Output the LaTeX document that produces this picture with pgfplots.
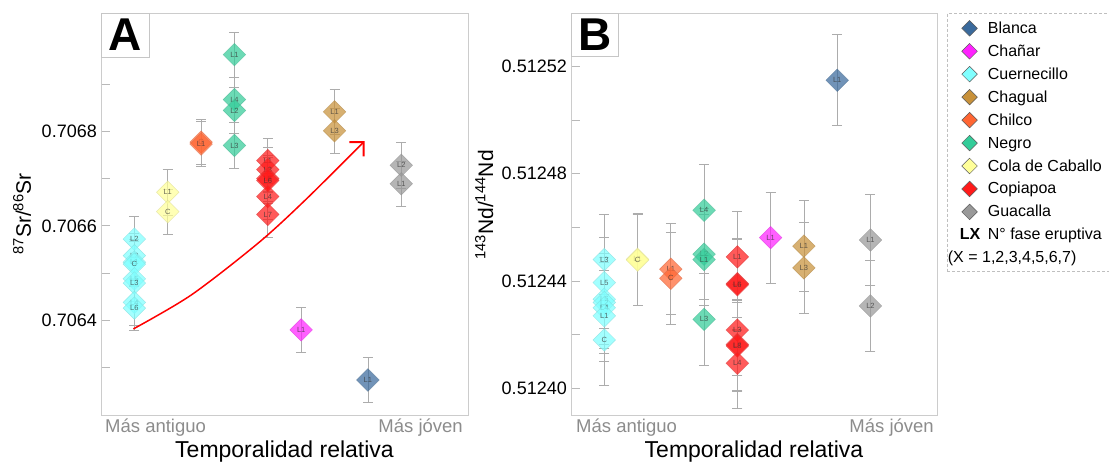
\documentclass[border=0pt]{standalone}
\usepackage{fontspec}
\setmainfont{Liberation Sans}
\usepackage{pgfplots}
\usepackage{pgfplotstable}
\pgfplotsset{compat=1.18}
\usetikzlibrary{arrows.meta}

\definecolor{cBlanca}{HTML}{3A6A9C}
\definecolor{cChanar}{HTML}{FF22FF}
\definecolor{cCuer}{HTML}{80FFFF}
\definecolor{cChagual}{HTML}{C8913A}
\definecolor{cChilco}{HTML}{FF6633}
\definecolor{cNegro}{HTML}{33CC99}
\definecolor{cCola}{HTML}{FFFF99}
\definecolor{cCopia}{HTML}{FF1A1A}
\definecolor{cGuac}{HTML}{999999}

% ---------- Panel A: 87Sr/86Sr ----------
\pgfplotstableread{
x y e l
1 0.706572 0.000048 L2
1 0.706537 0.000048 L2
1 0.706523 0.000048 L1
1 0.706519 0.000048 C
1 0.706488 0.000048 L5
1 0.706479 0.000048 L3
1 0.706438 0.000048 L4
1 0.706426 0.000048 L6
}\CuerA
\pgfplotstableread{
x y e l
2 0.706671 0.000048 L1
2 0.706630 0.000048 C
}\ColaA
\pgfplotstableread{
x y e l
3 0.706777 0.000048 C
3 0.706773 0.000048 L1
}\ChilA
\pgfplotstableread{
x y e l
4 0.706962 0.000048 L1
4 0.706867 0.000048 L4
4 0.706844 0.000048 L2
4 0.706770 0.000048 L3
}\NegA
\pgfplotstableread{
x y e l
5 0.706738 0.000048 L1
5 0.706719 0.000048 L3
5 0.706700 0.000048 L5
5 0.706696 0.000048 L6
5 0.706662 0.000048 L4
5 0.706624 0.000048 L7
}\CopA
\pgfplotstableread{
x y e l
6 0.706380 0.000048 L1
}\ChaA
\pgfplotstableread{
x y e l
7 0.706841 0.000048 L1
7 0.706801 0.000048 L3
}\ChgA
\pgfplotstableread{
x y e l
8 0.706274 0.000048 L1
}\BlaA
\pgfplotstableread{
x y e l
9 0.706728 0.000048 L2
9 0.706689 0.000048 L1
}\GuaA

% ---------- Panel B: 143Nd/144Nd ----------
\pgfplotstableread{
x y e l
1 0.5124480 0.000017 L3
1 0.5124394 0.000017 L5
1 0.5124332 0.000017 L6
1 0.5124320 0.000017 L2
1 0.5124300 0.000017 L4
1 0.5124270 0.000017 L1
1 0.5124180 0.000017 C
}\CuerB
\pgfplotstableread{
x y e l
2 0.5124481 0.000017 L1
2 0.5124478 0.000017 C
}\ColaB
\pgfplotstableread{
x y e l
3 0.5124444 0.000017 L1
3 0.5124410 0.000017 C
}\ChilB
\pgfplotstableread{
x y e l
4 0.5124664 0.000017 L4
4 0.5124500 0.000017 L2
4 0.5124480 0.000017 L1
4 0.5124257 0.000017 L3
}\NegB
\pgfplotstableread{
x y e l
5 0.5124490 0.000017 L1
5 0.5124390 0.000017 L5
5 0.5124386 0.000017 L6
5 0.5124217 0.000017 L3
5 0.5124163 0.000017 L7
5 0.5124158 0.000017 L8
5 0.5124093 0.000017 L4
}\CopB
\pgfplotstableread{
x y e l
6 0.5124562 0.000017 L1
}\ChaB
\pgfplotstableread{
x y e l
7 0.5124530 0.000017 L1
7 0.5124449 0.000017 L3
}\ChgB
\pgfplotstableread{
x y e l
8 0.5125149 0.000017 L1
}\BlaB
\pgfplotstableread{
x y e l
9 0.5124553 0.000017 L1
9 0.5124307 0.000017 L2
}\GuaB

\pgfplotsset{
  panel/.style={
    scale only axis, width=367pt, height=402pt,
    xmin=0, xmax=11, xtick=\empty,
    clip mode=individual,
    axis line style={draw=gray!40, line width=0.8pt},
    tick align=inside, major tick length=9pt, minor tick length=9pt,
    ytick pos=left,
    tick style={gray!55, line width=0.8pt},
    yticklabel style={font=\fontsize{18}{18}\selectfont, inner xsep=4pt, inner ysep=0pt,
      /pgf/number format/assume math mode=true},
    scaled y ticks=false,
  },
  grp/.style={
    only marks, mark=square*, mark size=8pt,
    mark options={rotate=45, fill=#1, fill opacity=0.72, draw=#1!70!gray, draw opacity=0.6, line width=0.5pt},
    point meta=explicit symbolic,
    nodes near coords, nodes near coords align=center,
    every node near coord/.append style={font=\fontsize{7.5}{7.5}\selectfont, text=black!80, inner sep=0pt},
    error bars/y dir=both, error bars/y explicit,
    error bars/error bar style={color=gray!65, line width=0.7pt},
    error bars/error mark options={rotate=90, gray!65, mark size=5pt, line width=0.7pt},
  },
  legmark/.style={
    only marks, mark=square*, mark size=5.5pt,
    mark options={rotate=45, solid, fill=#1, draw=gray!70!black, line width=0.5pt},
    legend image code/.code={\path (-2pt,0pt) (22pt,0pt); \draw[##1] plot coordinates {(9pt,0pt)};},
  },
}

\newcommand{\lbl}[1]{\fontsize{23}{23}\selectfont #1}

\begin{document}
\begin{tikzpicture}
\useasboundingbox (0,0) rectangle (1109pt,464pt);

% ================= A =================
\begin{axis}[panel, at={(101pt,49pt)}, anchor=south west,
  ymin=0.70620, ymax=0.70705,
  ytick={0.7064,0.7066,0.7068},
  minor ytick={0.7063,0.7065,0.7067,0.7069,0.7070},
  yticklabel style={/pgf/number format/.cd, fixed, precision=4, fixed zerofill},
]
\addplot[grp=cCuer] table[x=x,y=y,y error=e,meta=l] {\CuerA};
\addplot[grp=cCola] table[x=x,y=y,y error=e,meta=l] {\ColaA};
\addplot[grp=cChilco] table[x=x,y=y,y error=e,meta=l] {\ChilA};
\addplot[grp=cNegro] table[x=x,y=y,y error=e,meta=l] {\NegA};
\addplot[grp=cCopia] table[x=x,y=y,y error=e,meta=l] {\CopA};
\addplot[grp=cChanar] table[x=x,y=y,y error=e,meta=l] {\ChaA};
\addplot[grp=cChagual] table[x=x,y=y,y error=e,meta=l] {\ChgA};
\addplot[grp=cBlanca] table[x=x,y=y,y error=e,meta=l] {\BlaA};
\addplot[grp=cGuac] table[x=x,y=y,y error=e,meta=l] {\GuaA};
\addplot[red, line width=1.5pt, smooth, -{Straight Barb[length=10pt,width=20pt,line width=2pt]}]
  coordinates {(0.97,0.706382) (2.71,0.706454) (4.72,0.706564) (6.13,0.706655) (7.90,0.706779)};
\node[draw=gray!45, fill=white, line width=0.8pt, anchor=north west, minimum width=48pt,
  minimum height=43.5pt, inner sep=0pt, font=\fontsize{46}{46}\bfseries\selectfont]
  at (rel axis cs:0,1) {A};
\node[anchor=north west, inner sep=0pt, text=gray!90, font=\fontsize{18.5}{18.5}\selectfont]
  at ([xshift=4pt,yshift=-4pt]rel axis cs:0,0) {Más antiguo};
\node[anchor=north east, inner sep=0pt, text=gray!90, font=\fontsize{18.5}{18.5}\selectfont]
  at ([xshift=-5pt,yshift=-4pt]rel axis cs:1,0) {Más jóven};
\node[anchor=north, inner sep=0pt] at ([yshift=-26pt]rel axis cs:0.5,0) {\lbl{Temporalidad relativa}};
\node[rotate=90, anchor=base, inner sep=0pt] at ([xshift=-70pt]rel axis cs:0,0.5)
  {\fontsize{21}{21}\selectfont\textsuperscript{87}Sr/\textsuperscript{86}Sr};
\end{axis}

% ================= B =================
\begin{axis}[panel, at={(571pt,49pt)}, anchor=south west, width=366pt,
  ymin=0.51239, ymax=0.51254,
  ytick={0.51240,0.51244,0.51248,0.51252},
  minor ytick={0.51242,0.51246,0.51250},
  yticklabel style={/pgf/number format/.cd, fixed, precision=5, fixed zerofill},
  legend cell align=left,
  legend style={at={(1.0273,1)}, anchor=north west, draw=gray!50,
    dash pattern=on 3pt off 2pt, line width=0.6pt,
    font=\fontsize{16}{16}\selectfont, inner xsep=11pt, inner ysep=7.2pt,
    row sep=7.4pt, column sep=5pt,
    nodes={inner sep=0pt, text height=12.5pt, text depth=2.5pt}},
]
\addplot[forget plot, grp=cCuer] table[x=x,y=y,y error=e,meta=l] {\CuerB};
\addplot[forget plot, grp=cCola] table[x=x,y=y,y error=e,meta=l] {\ColaB};
\addplot[forget plot, grp=cChilco] table[x=x,y=y,y error=e,meta=l] {\ChilB};
\addplot[forget plot, grp=cNegro] table[x=x,y=y,y error=e,meta=l] {\NegB};
\addplot[forget plot, grp=cCopia] table[x=x,y=y,y error=e,meta=l] {\CopB};
\addplot[forget plot, grp=cChanar] table[x=x,y=y,y error=e,meta=l] {\ChaB};
\addplot[forget plot, grp=cChagual] table[x=x,y=y,y error=e,meta=l] {\ChgB};
\addplot[forget plot, grp=cBlanca] table[x=x,y=y,y error=e,meta=l] {\BlaB};
\addplot[forget plot, grp=cGuac] table[x=x,y=y,y error=e,meta=l] {\GuaB};

\addlegendimage{legmark=cBlanca}\addlegendentry{Blanca}
\addlegendimage{legmark=cChanar}\addlegendentry{Chañar}
\addlegendimage{legmark=cCuer}\addlegendentry{Cuernecillo}
\addlegendimage{legmark=cChagual}\addlegendentry{Chagual}
\addlegendimage{legmark=cChilco}\addlegendentry{Chilco}
\addlegendimage{legmark=cNegro}\addlegendentry{Negro}
\addlegendimage{legmark=cCola}\addlegendentry{Cola de Caballo}
\addlegendimage{legmark=cCopia}\addlegendentry{Copiapoa}
\addlegendimage{legmark=cGuac}\addlegendentry{Guacalla}
\addlegendimage{legend image code/.code={\path (-2pt,0pt) (22pt,0pt); \node[inner sep=0pt, anchor=west, font=\fontsize{16}{16}\bfseries\selectfont] at (-1pt,0pt) {LX};}}
\addlegendentry{N° fase eruptiva}
\addlegendimage{empty legend}\addlegendentry{\hspace*{-40pt}(X = 1,2,3,4,5,6,7)}

\node[draw=gray!45, fill=white, line width=0.8pt, anchor=north west, minimum width=47pt,
  minimum height=43.5pt, inner sep=0pt, font=\fontsize{46}{46}\bfseries\selectfont]
  at (rel axis cs:0,1) {B};
\node[anchor=north west, inner sep=0pt, text=gray!90, font=\fontsize{18.5}{18.5}\selectfont]
  at ([xshift=5pt,yshift=-4pt]rel axis cs:0,0) {Más antiguo};
\node[anchor=north east, inner sep=0pt, text=gray!90, font=\fontsize{18.5}{18.5}\selectfont]
  at ([xshift=-3pt,yshift=-4pt]rel axis cs:1,0) {Más jóven};
\node[anchor=north, inner sep=0pt] at ([yshift=-26pt]rel axis cs:0.5,0) {\lbl{Temporalidad relativa}};
\node[rotate=90, anchor=base, inner sep=0pt] at ([xshift=-78pt,yshift=9pt]rel axis cs:0,0.5)
  {\fontsize{21}{21}\selectfont\textsuperscript{143}Nd/\textsuperscript{144}Nd};
\end{axis}
\end{tikzpicture}
\end{document}
